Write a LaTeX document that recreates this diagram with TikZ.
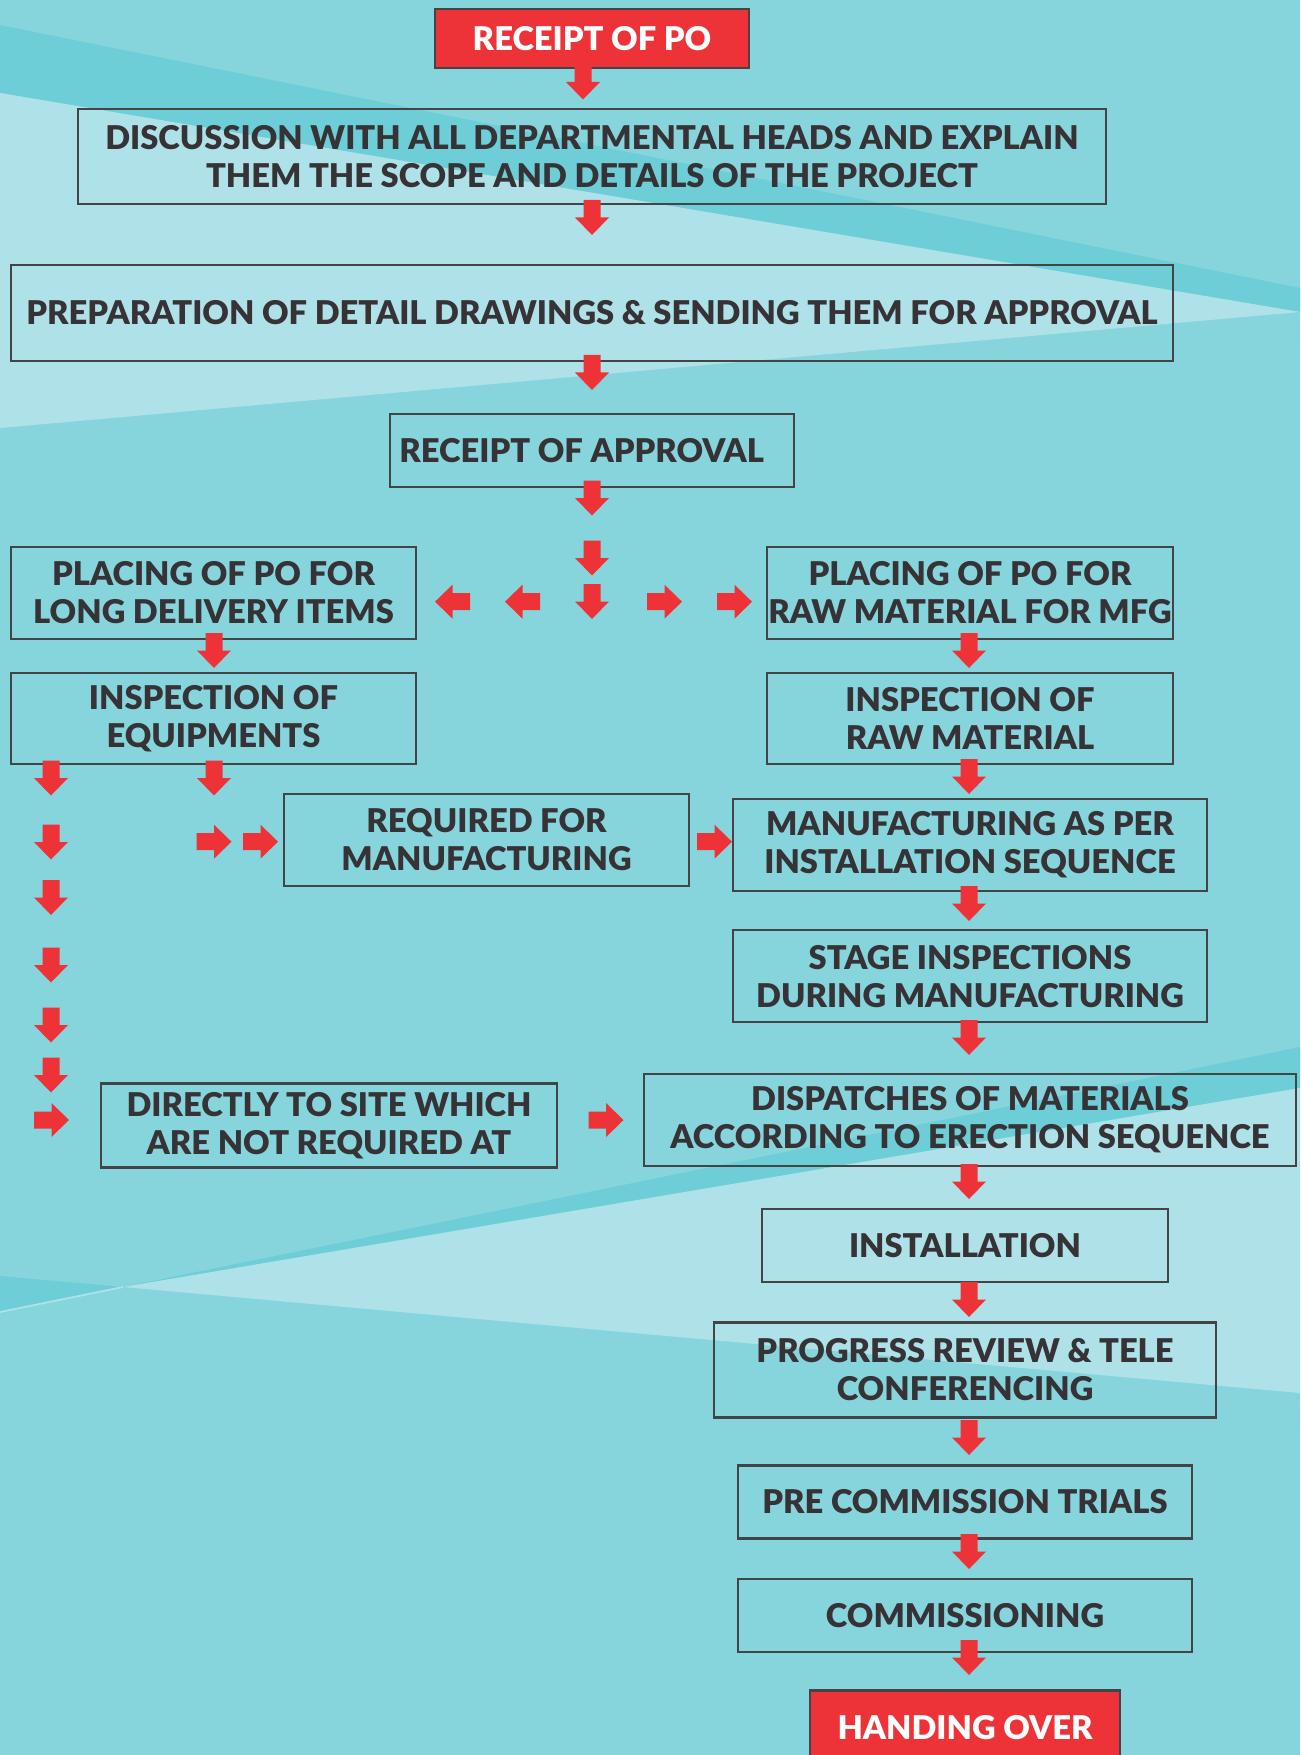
\documentclass[tikz,border=0pt]{standalone}
\usepackage{fontspec}
\setmainfont{Lato}[BoldFont = Lato Black]
\usetikzlibrary{positioning}

\definecolor{sea}{HTML}{86D5DC}
\definecolor{seadark}{HTML}{6ECED7}
\definecolor{sealight}{HTML}{AEE2E8}
\definecolor{flagred}{HTML}{EE3338}
\definecolor{ink}{HTML}{363235}
\definecolor{frame}{HTML}{444446}

\tikzset{
    stepbox/.style = {rectangle, draw = frame, line width = 0.6pt, align = center, inner sep = 0pt,
                      text = ink, font = \bfseries\fontsize{9.3}{10.8}\selectfont},
    endbox/.style  = {stepbox, fill = flagred, text = white},
    blockarrow/.pic = {
        \fill[flagred] (-17.5,-8.5) -- (0,-8.5) -- (0,-17) -- (17.5,0) -- (0,17) -- (0,8.5) -- (-17.5,8.5) -- cycle;
    },
}

\begin{document}
\begin{tikzpicture}[x = 0.01cm, y = -0.01cm]

    \useasboundingbox (0,0) rectangle (1300,1755);
    \clip (0,0) rectangle (1300,1755);

    % background stripes
    \fill[sea] (0,0) rectangle (1300,1755);
    \fill[seadark] (0,25) -- (1300,288) -- (1300,312) -- (0,93) -- cycle;
    \fill[sealight] (0,93) -- (1300,312) -- (0,428) -- cycle;
    \fill[seadark] (123,1287) -- (1300,1047) -- (1300,1088) -- cycle;
    \fill[sealight] (123,1287) -- (1300,1088) -- (1300,1393) -- cycle;
    \fill[seadark] (0,1276) -- (123,1287) -- (0,1312) -- cycle;
    \draw[sealight, line width = 0.5pt] (0,1312) -- (123,1287);

    % main column
    \node (po) at (592,38.5) [endbox, minimum width = 3.14cm, minimum height = 0.59cm] {RECEIPT OF PO};
    \node (disc) at (592,156.5) [stepbox, minimum width = 10.28cm, minimum height = 0.95cm]
        {DISCUSSION WITH ALL DEPARTMENTAL HEADS AND EXPLAIN\\THEM THE SCOPE AND DETAILS OF THE PROJECT};
    \node (prep) at (592,313) [stepbox, minimum width = 11.62cm, minimum height = 0.96cm]
        {PREPARATION OF DETAIL DRAWINGS \& SENDING THEM FOR APPROVAL};
    \node (appr) at (592,450.5) [stepbox, minimum width = 4.04cm, minimum height = 0.73cm, text width = 3.85cm, align = flush left]
        {RECEIPT OF APPROVAL};

    % two branches
    \node (plong) at (213.5,593) [stepbox, minimum width = 4.05cm, minimum height = 0.92cm] {PLACING OF PO FOR\\LONG DELIVERY ITEMS};
    \node (praw) at (970,593) [stepbox, minimum width = 4.05cm, minimum height = 0.92cm] {PLACING OF PO FOR\\RAW MATERIAL FOR MFG};
    \node (iequip) [stepbox, minimum width = 4.05cm, minimum height = 0.91cm, below = 0.32cm of plong] {INSPECTION OF\\EQUIPMENTS};
    \node (iraw) [stepbox, minimum width = 4.05cm, minimum height = 0.91cm, below = 0.32cm of praw] {INSPECTION OF\\RAW MATERIAL};
    \node (reqmfg) at (486.5,840) [stepbox, minimum width = 4.05cm, minimum height = 0.92cm] {REQUIRED FOR\\MANUFACTURING};
    \node (mfg) at (970,845) [stepbox, minimum width = 4.74cm, minimum height = 0.92cm] {MANUFACTURING AS PER\\INSTALLATION SEQUENCE};
    \node (stage) [stepbox, minimum width = 4.74cm, minimum height = 0.92cm, below = 0.37cm of mfg] {STAGE INSPECTIONS\\DURING MANUFACTURING};
    \node (direct) at (329,1125.5) [stepbox, minimum width = 4.56cm, minimum height = 0.84cm] {DIRECTLY TO SITE WHICH\\ARE NOT REQUIRED AT};
    \node (disp) at (970,1120) [stepbox, minimum width = 6.52cm, minimum height = 0.92cm] {DISPATCHES OF MATERIALS\\ACCORDING TO ERECTION SEQUENCE};

    % final column
    \node (inst) at (965,1245.5) [stepbox, minimum width = 4.06cm, minimum height = 0.73cm] {INSTALLATION};
    \node (prog) at (965,1370) [stepbox, minimum width = 5.02cm, minimum height = 0.95cm] {PROGRESS REVIEW \& TELE\\CONFERENCING};
    \node (pre) at (965,1502) [stepbox, minimum width = 4.54cm, minimum height = 0.73cm] {PRE COMMISSION TRIALS};
    \node (comm) [stepbox, minimum width = 4.54cm, minimum height = 0.73cm, below = 0.38cm of pre] {COMMISSIONING};
    \node (hand) at (965,1728) [endbox, minimum width = 3.10cm, minimum height = 0.75cm] {HANDING OVER};

    % arrows
    \pic[rotate = -90] (a1) at (583,82) {blockarrow};
    \pic[rotate = -90] (a2) at (592,217.5) {blockarrow};
    \pic[rotate = -90] (a3) at (592,372.5) {blockarrow};
    \pic[rotate = -90] (a4) at (592,498) {blockarrow};
    \pic[rotate = -90] (a5) at (592,558) {blockarrow};
    \pic[rotate = -90] (a6) at (592,601.5) {blockarrow};
    \pic[rotate = 180] (l1) at (452.5,601.7) {blockarrow};
    \pic[rotate = 180] (l2) at (522.5,601.7) {blockarrow};
    \pic (r1) at (664.5,601.7) {blockarrow};
    \pic (r2) at (734.5,601.7) {blockarrow};

    \pic[rotate = -90] (a7) at (214,650.5) {blockarrow};
    \pic[rotate = -90] (a8) at (969,650.5) {blockarrow};
    \pic[rotate = -90] (a9) at (51,778) {blockarrow};
    \pic[rotate = -90] (a10) at (214,778) {blockarrow};
    \pic[rotate = -90] (a11) at (969,776.5) {blockarrow};
    \pic (r3) at (214,841.7) {blockarrow};
    \pic (r4) at (260.5,841.7) {blockarrow};
    \pic (r5) at (714.5,841.7) {blockarrow};

    \foreach \y [count = \i] in {842, 897.5, 965, 1025, 1075}
        \pic[rotate = -90] (c\i) at (51,\y) {blockarrow};
    \pic (r6) at (51.5,1120) {blockarrow};
    \pic (r7) at (606,1120) {blockarrow};

    \foreach \y [count = \i] in {903.5, 1037.5, 1181.5, 1299.5, 1437.5, 1551.5, 1657.5}
        \pic[rotate = -90] (e\i) at (969,\y) {blockarrow};

\end{tikzpicture}
\end{document}
